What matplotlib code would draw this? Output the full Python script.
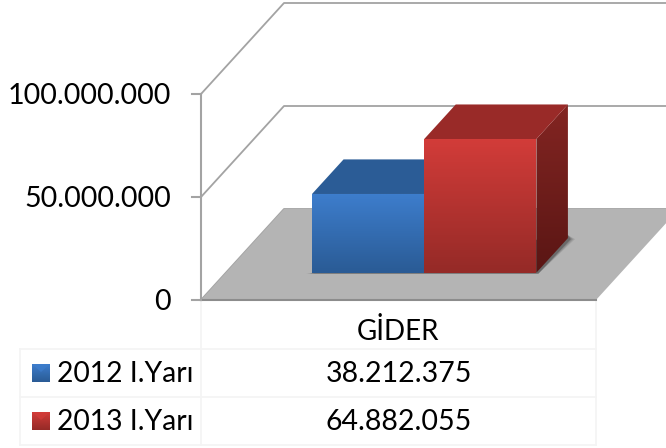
import numpy as np
import matplotlib
matplotlib.use("Agg")
import matplotlib.pyplot as plt
from matplotlib.patches import Polygon

plt.rcParams["font.family"] = ["Lato", "DejaVu Sans"]

# Data
category = "GİDER"
series_names = ["2012 I.Yarı", "2013 I.Yarı"]
values = [38212375, 64882055]
value_labels = ["38.212.375", "64.882.055"]
y_ticks = [0, 50000000, 100000000]
y_tick_labels = ["0", "50.000.000", "100.000.000"]

# Colours per series: front top, front bottom, top face, side top, side bottom
blue = ["#3d7dcc", "#2a5b95", "#2b5c96", "#2b5c96", "#1f4470"]
red = ["#d23c39", "#952a27", "#992a28", "#832522", "#5a1614"]
series_colors = [blue, red]

# Oblique projection of the chart box, in pixels
X0, Y0 = 201, 300
PLOT_W = 395
DEPTH_X, DEPTH_Y = 83, 91
PX_PER_UNIT = 103 / 50000000
GRID = "#a3a3a3"


def proj(x, v=0, d=0):
    return (X0 + x * PLOT_W + d * DEPTH_X, Y0 - v * PX_PER_UNIT - d * DEPTH_Y)


def grad_poly(ax, pts, c_top, c_bottom, z):
    # polygon filled with a vertical gradient
    pts = np.array(pts)
    rgb = np.array([matplotlib.colors.to_rgb(c_top), matplotlib.colors.to_rgb(c_bottom)])
    t = np.linspace(0, 1, 64)[:, None]
    img = (rgb[0] * (1 - t) + rgb[1] * t)[:, None, :]
    ext = (pts[:, 0].min(), pts[:, 0].max(), pts[:, 1].max(), pts[:, 1].min())
    im = ax.imshow(img, extent=ext, aspect="auto", zorder=z, interpolation="bilinear")
    clip = Polygon(pts, transform=ax.transData, fc="none", ec="none")
    ax.add_patch(clip)
    im.set_clip_path(clip)


fig = plt.figure(figsize=(6.66, 4.48), dpi=100)
ax = fig.add_axes([0, 0, 1, 1])

# Floor
ax.add_patch(Polygon([proj(0), proj(1), proj(1, 0, 1), proj(0, 0, 1)], fc="#b4b4b4", ec="none", zorder=1))
ax.plot(*zip(proj(0), proj(1)), color="#8c8c8c", lw=1.5, zorder=2)

# Walls and gridlines
for t in y_ticks:
    ax.plot(*zip(proj(0, t), proj(0, t, 1), (700, proj(0, t, 1)[1])), color=GRID, lw=1.3, zorder=0.5)
    px, py = proj(0, t)
    ax.plot([px - 9, px], [py, py], color=GRID, lw=1.5, zorder=2)
ax.plot(*zip(proj(0, 0), proj(0, y_ticks[-1])), color=GRID, lw=1.5, zorder=2)

for t, lab in zip(y_ticks, y_tick_labels):
    ax.text(171, proj(0, t)[1] + 2, lab, ha="right", va="center", fontsize=20.6, color="black")

# Bars
GAP = 0.218
BAR_W = 0.284
D0, D1 = 0.30, 0.68

# shadow on the floor
for grow, alpha in zip([5, 3, 1], [0.10, 0.15, 0.22]):
    sh = [proj(GAP, 0, D0), proj(GAP + BAR_W * 2, 0, D0), proj(GAP + BAR_W * 2, 0, D1)]
    ax.add_patch(Polygon([(sh[0][0] - grow - 1, sh[0][1] + 1), (sh[1][0] + 2, sh[1][1] + 1),
                          (sh[2][0] + grow + 2, sh[2][1] + 1), (sh[2][0], sh[2][1] - 3)],
                         fc="black", alpha=alpha, ec="none", zorder=2))

for i, (val, c) in enumerate(zip(values, series_colors)):
    x0 = GAP + i * BAR_W
    x1 = x0 + BAR_W
    z = 3 + i
    grad_poly(ax, [proj(x1, val, D0), proj(x1, val, D1), proj(x1, 0, D1), proj(x1, 0, D0)], c[3], c[4], z)
    ax.add_patch(Polygon([proj(x0, val, D0), proj(x1, val, D0), proj(x1, val, D1), proj(x0, val, D1)],
                         fc=c[2], ec="none", zorder=z + 0.1))
    grad_poly(ax, [proj(x0, val, D0), proj(x1, val, D0), proj(x1, 0, D0), proj(x0, 0, D0)], c[0], c[1], z + 0.2)

# Data table
TABLE = "#f4f4f4"
for y in [349, 397, 445]:
    ax.plot([20, 596], [y, y], color=TABLE, lw=1.3, zorder=1)
ax.plot([20, 20], [349, 445], color=TABLE, lw=1.3, zorder=1)
ax.plot([201, 201], [300, 445], color=TABLE, lw=1.3, zorder=1)
ax.plot([596, 596], [300, 445], color=TABLE, lw=1.3, zorder=1)

ax.text(398.5, 332, category, ha="center", va="center", fontsize=20, color="black")
row_y = [373, 421]
for name, lab, y, c in zip(series_names, value_labels, row_y, series_colors):
    ax.text(57, y + 1, name, ha="left", va="center", fontsize=20.3, color="black")
    ax.text(398.5, y + 1, lab, ha="center", va="center", fontsize=20.5, color="black")
    # legend key
    k = [(32, y - 9), (50, y - 9), (50, y + 9), (32, y + 9)]
    grad_poly(ax, k, c[0], c[1], 3)
    ax.add_patch(Polygon([(32, y - 9), (50, y - 9), (41, y - 1)],
                         fc=c[0], ec="none", alpha=0.75, zorder=3.3))

ax.set_xlim(0, 666)
ax.set_ylim(448, 0)
ax.axis("off")

plt.savefig("out.png", dpi=100)
